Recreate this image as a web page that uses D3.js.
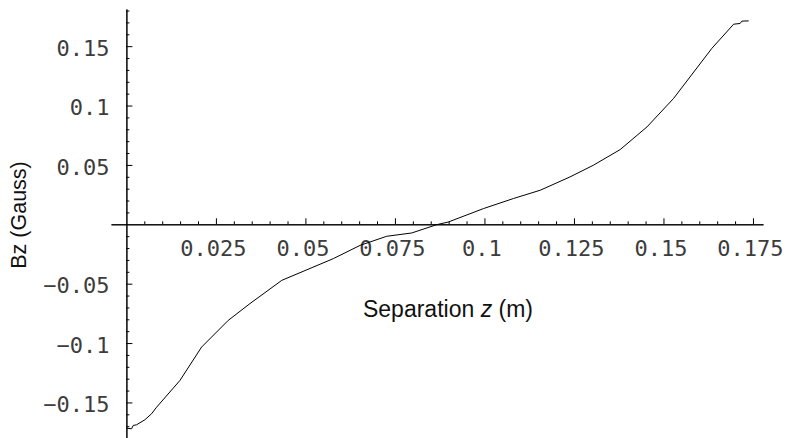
<!DOCTYPE html>
<html>
<head>
<meta charset="utf-8">
<script src="https://cdn.jsdelivr.net/npm/d3@7"></script>
<style>
  html, body { margin: 0; padding: 0; background: #fff; }
  svg { display: block; }
  .tick text { font-family: "DejaVu Sans Mono", monospace; font-size: 22px; fill: #3c3c3c; }
  .axis-title { font-family: "Liberation Sans", Arial, sans-serif; fill: #111; }
</style>
</head>
<body>
<svg id="chart" width="789" height="438"></svg>
<script>
// Measured field along the separation axis
const zValues = [0.0000, 0.00145, 0.0019, 0.00285, 0.00517, 0.00704, 0.00844, 0.01495, 0.0210, 0.02845,
  0.0345, 0.0434, 0.0578, 0.0653, 0.0727, 0.0797, 0.0867, 0.0899, 0.0997, 0.1081,
  0.1156, 0.1239, 0.1304, 0.1379, 0.1454, 0.1528, 0.1635, 0.1696, 0.1714, 0.1719, 0.1738];
const bzValues = [-0.1717, -0.1722, -0.1694, -0.1688, -0.1646, -0.1595, -0.1540, -0.1315, -0.1034, -0.0809,
  -0.0668, -0.0472, -0.0289, -0.0177, -0.0101, -0.0073, -0.0003, 0.0019, 0.0132, 0.0217,
  0.0287, 0.0399, 0.0497, 0.0629, 0.0820, 0.1059, 0.1481, 0.1685, 0.1691, 0.1711, 0.1713];

// Tick positions and labels
const xMajorTicks = [0.025, 0.05, 0.075, 0.1, 0.125, 0.15, 0.175];
const xTickLabels = ["0.025", "0.05", "0.075", "0.1", "0.125", "0.15", "0.175"];
const xMinorTicks = d3.range(1, 36).map(i => i * 0.005).filter(v => Math.abs(v / 0.025 - Math.round(v / 0.025)) > 1e-6);
const yMajorTicks = [0.15, 0.1, 0.05, -0.05, -0.1, -0.15];
const yTickLabels = ["0.15", "0.1", "0.05", "\u22120.05", "\u22120.1", "\u22120.15"];
const yMinorTicks = d3.range(-18, 19).map(i => i * 0.01).filter(v => Math.abs(v / 0.05 - Math.round(v / 0.05)) > 1e-6);

const svg = d3.select("#chart");

// Axis extents (the axes run slightly past the data)
const x = d3.scaleLinear().domain([-0.0043, 0.1778]).range([111, 763]);
const y = d3.scaleLinear().domain([-0.1808, 0.1813]).range([439, 9]);

const x0 = y(0), y0 = x(0);

// x axis: ticks point up, labels below
svg.append("g").attr("transform", `translate(0,${x0})`)
  .call(d3.axisBottom(x).tickValues(xMinorTicks).tickSize(-3).tickSizeOuter(0).tickFormat(""));
const xMajor = svg.append("g").attr("transform", `translate(0,${x0})`)
  .call(d3.axisBottom(x).tickValues(xMajorTicks).tickSize(-6).tickSizeOuter(0).tickPadding(16)
    .tickFormat((d, i) => xTickLabels[i]));
xMajor.selectAll(".tick text").attr("dx", "-3");

// y axis: ticks point right, labels on the left
svg.append("g").attr("transform", `translate(${y0},0)`)
  .call(d3.axisLeft(y).tickValues(yMinorTicks).tickSize(-3).tickSizeOuter(0).tickFormat(""));
const yMajor = svg.append("g").attr("transform", `translate(${y0},0)`)
  .call(d3.axisLeft(y).tickValues(yMajorTicks).tickSize(-6).tickSizeOuter(0).tickPadding(17)
    .tickFormat((d, i) => yTickLabels[i]));
yMajor.selectAll(".tick text").attr("dy", "0.42em");

svg.selectAll(".domain").attr("stroke", "#000").attr("stroke-width", 1);
svg.selectAll(".tick line").attr("stroke", "#000").attr("stroke-width", 1);

// Field curve
const line = d3.line().x((d, i) => x(zValues[i])).y(d => y(d));
svg.append("path")
  .datum(bzValues)
  .attr("d", line)
  .attr("fill", "none")
  .attr("stroke", "#000")
  .attr("stroke-width", 1);

// Axis titles
const xt = svg.append("text").attr("class", "axis-title")
  .attr("font-size", 23)
  .attr("x", 448).attr("y", 317).attr("text-anchor", "middle");
xt.append("tspan").text("Separation ");
xt.append("tspan").attr("font-style", "italic").text("z");
xt.append("tspan").text(" (m)");

svg.append("text").attr("class", "axis-title")
  .attr("font-size", 21.5)
  .attr("transform", "translate(26,215) rotate(-90)")
  .attr("text-anchor", "middle")
  .text("Bz (Gauss)");
</script>
</body>
</html>
